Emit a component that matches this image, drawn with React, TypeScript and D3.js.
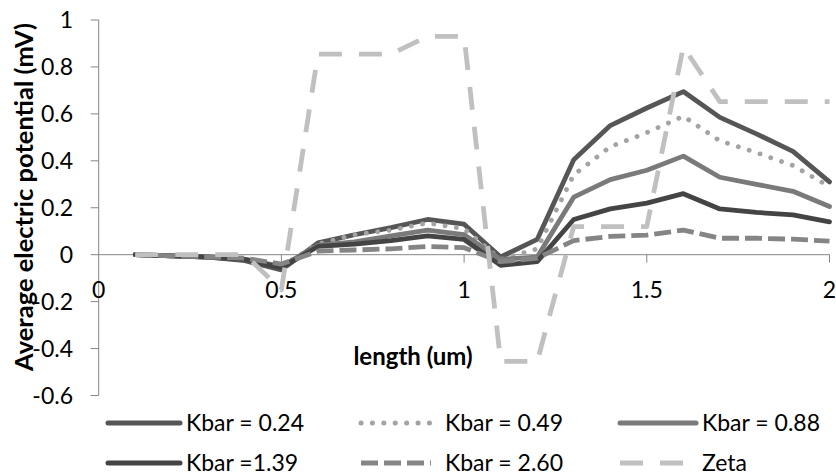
import React from 'react';
import * as d3 from 'd3';

// Position along the channel (um)
const lengths = [0.1, 0.2, 0.3, 0.4, 0.5, 0.6, 0.7, 0.8, 0.9, 1.0, 1.1, 1.2, 1.3, 1.4, 1.5, 1.6, 1.7, 1.8, 1.9, 2.0];

// Average electric potential (mV) per permeability ratio
const kbar024 = [0, -0.005, -0.01, -0.025, -0.065, 0.05, 0.085, 0.115, 0.15, 0.13, -0.01, 0.065, 0.405, 0.55, 0.625, 0.695, 0.585, 0.515, 0.44, 0.31];
const kbar049 = [0, -0.005, -0.01, -0.02, -0.05, 0.045, 0.085, 0.105, 0.135, 0.11, -0.02, 0.025, 0.34, 0.46, 0.52, 0.59, 0.485, 0.435, 0.38, 0.29];
const kbar088 = [0, -0.005, -0.01, -0.02, -0.05, 0.04, 0.055, 0.08, 0.105, 0.085, -0.02, -0.01, 0.245, 0.32, 0.36, 0.42, 0.33, 0.3, 0.27, 0.205];
const kbar139 = [0, -0.005, -0.01, -0.02, -0.055, 0.035, 0.045, 0.06, 0.08, 0.065, -0.045, -0.03, 0.15, 0.195, 0.22, 0.26, 0.195, 0.18, 0.17, 0.14];
const kbar260 = [0, -0.005, -0.01, -0.015, -0.04, 0.015, 0.02, 0.025, 0.035, 0.03, -0.03, -0.015, 0.06, 0.078, 0.083, 0.105, 0.07, 0.07, 0.066, 0.058];
const zeta = [0, 0, 0, 0, -0.15, 0.855, 0.855, 0.855, 0.93, 0.93, -0.455, -0.455, 0.12, 0.12, 0.12, 0.886, 0.652, 0.652, 0.652, 0.652];

const seriesNames = ['Kbar = 0.24', 'Kbar = 0.49', 'Kbar = 0.88', 'Kbar =1.39', 'Kbar = 2.60', 'Zeta'];
const seriesValues = [kbar024, kbar049, kbar088, kbar139, kbar260, zeta];

const xTicks = [0, 0.5, 1, 1.5, 2];
const yTicks = [-0.6, -0.4, -0.2, 0, 0.2, 0.4, 0.6, 0.8, 1];

const xTitle = 'length (um)';
const yTitle = 'Average electric potential (mV)';

type LineStyle = { color: string; dash?: string; cap: 'butt' | 'round' };
const lineStyles: LineStyle[] = [
  { color: '#565656', cap: 'round' },
  { color: '#a3a3a3', dash: '0.1 11.3', cap: 'round' },
  { color: '#7a7a7a', cap: 'round' },
  { color: '#444444', cap: 'round' },
  { color: '#858585', dash: '17 6', cap: 'butt' },
  { color: '#c0c0c0', dash: '23 17', cap: 'butt' },
];

// Legend grid: three columns, two rows
const legendCols = [
  { lineX0: 108, lineX1: 180, textX: 186 },
  { lineX0: 361, lineX1: 431, textX: 445 },
  { lineX0: 620, lineX1: 696, textX: 702 },
];
const legendRows = [423, 463];

const W = 836;
const H = 475;
const FONT = "Lato, 'Open Sans', 'DejaVu Sans', sans-serif";

export default function App() {
  const x = d3.scaleLinear().domain([0, 2]).range([98.7, 829.5]);
  const y = d3.scaleLinear().domain([-0.6, 1]).range([395.5, 20]);
  const y0 = y(0);

  const line = d3
    .line<number>()
    .x((_, i) => x(lengths[i]))
    .y((d) => y(d))
    .curve(d3.curveLinear);

  const fmt = (v: number) => String(Math.round(v * 10) / 10);

  return (
    <div style={{ position: 'fixed', left: 0, top: 0 }}>
      <svg width={W} height={H} style={{ display: 'block', background: '#fff' }} fontFamily={FONT}>
        {/* Value axis */}
        <line x1={x(0)} x2={x(0)} y1={y(1)} y2={y(-0.6)} stroke="#868686" strokeWidth={1} />
        {yTicks.map((t) => (
          <g key={'yt' + t}>
            <line x1={x(0) - 8} x2={x(0)} y1={y(t)} y2={y(t)} stroke="#868686" strokeWidth={1} />
            <text x={73} y={y(t)} dy="0.36em" textAnchor="end" fontSize={23} fill="#000">
              {fmt(t)}
            </text>
          </g>
        ))}

        {/* Category axis crossing at zero */}
        <line x1={x(0)} x2={x(2)} y1={y0} y2={y0} stroke="#868686" strokeWidth={1} />
        {xTicks.map((t) => (
          <g key={'xt' + t}>
            {t > 0 && <line x1={x(t)} x2={x(t)} y1={y0} y2={y0 + 8} stroke="#868686" strokeWidth={1} />}
            <text x={x(t)} y={298} textAnchor="middle" fontSize={23} fill="#000">
              {fmt(t)}
            </text>
          </g>
        ))}

        {/* Axis titles */}
        <text x={413} y={365} textAnchor="middle" fontSize={24} fontWeight="bold" fill="#000">
          {xTitle}
        </text>
        <text
          transform={`translate(33, 197) rotate(-90)`}
          textAnchor="middle"
          fontSize={25.5}
          fontWeight="bold"
          fill="#000"
        >
          {yTitle}
        </text>

        {/* Series */}
        {seriesValues.map((vals, i) => (
          <path
            key={'s' + i}
            d={line(vals) || ''}
            fill="none"
            stroke={lineStyles[i].color}
            strokeWidth={4.8}
            strokeDasharray={lineStyles[i].dash}
            strokeLinecap={lineStyles[i].cap}
            strokeLinejoin="round"
          />
        ))}

        {/* Legend */}
        {seriesNames.map((name, i) => {
          const col = legendCols[i % 3];
          const ry = legendRows[Math.floor(i / 3)];
          const st = lineStyles[i];
          return (
            <g key={'lg' + i}>
              <line
                x1={col.lineX0}
                x2={col.lineX1}
                y1={ry}
                y2={ry}
                stroke={st.color}
                strokeWidth={5}
                strokeDasharray={st.dash}
                strokeLinecap={st.cap}
              />
              <text x={col.textX} y={ry} dy="0.36em" fontSize={23} fill="#000">
                {name}
              </text>
            </g>
          );
        })}
      </svg>
    </div>
  );
}
